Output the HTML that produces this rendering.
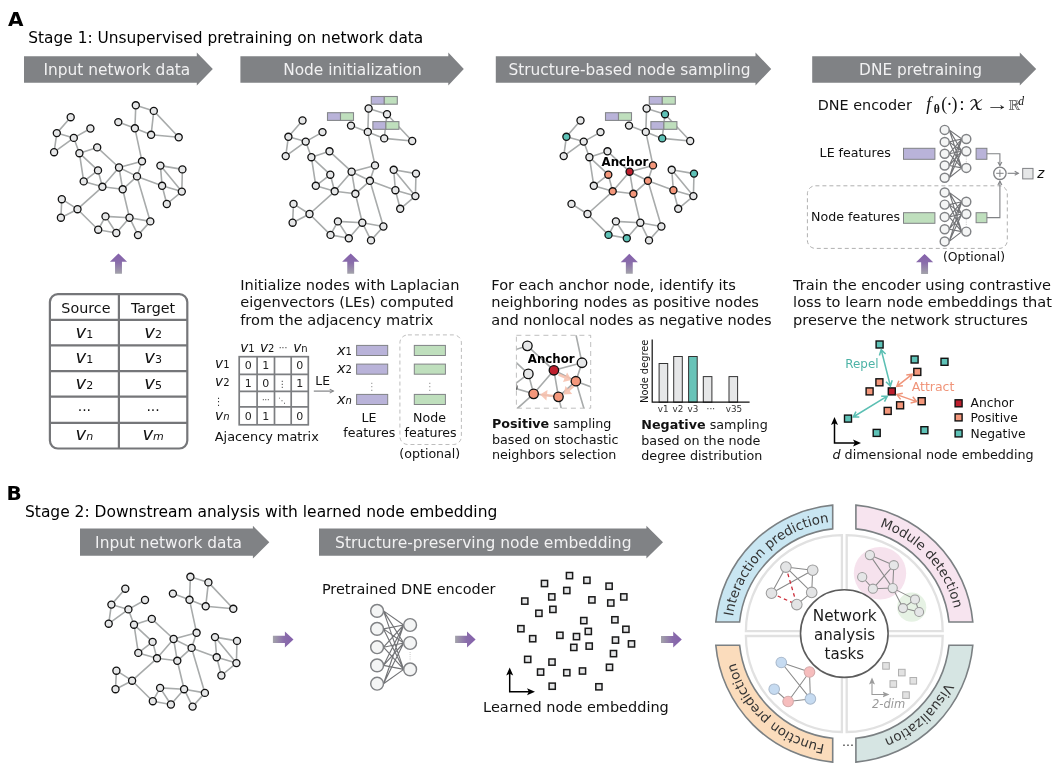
<!DOCTYPE html>
<html lang="en"><head><meta charset="utf-8"><title>DNE framework</title>
<style>
html,body{margin:0;padding:0;background:#fff;}
body{width:1060px;height:772px;overflow:hidden;}
svg{display:block;font-family:"DejaVu Sans","Liberation Sans",sans-serif;}
</style></head><body>
<svg width="1060" height="772" viewBox="0 0 1060 772">
<defs>
<linearGradient id="gup" x1="0" y1="0" x2="0" y2="1"><stop offset="0" stop-color="#8460ab"/><stop offset="0.45" stop-color="#8a6dab"/><stop offset="1" stop-color="#a3a3aa"/></linearGradient>
<linearGradient id="grt" x1="0" y1="0" x2="1" y2="0"><stop offset="0" stop-color="#a3a3aa"/><stop offset="0.55" stop-color="#8a6dab"/><stop offset="1" stop-color="#8460ab"/></linearGradient>
<marker id="mg" markerWidth="6" markerHeight="6" refX="4.5" refY="3" orient="auto" markerUnits="userSpaceOnUse"><path d="M0.5 0.8L5 3L0.5 5.2" fill="none" stroke="#808285" stroke-width="1"/></marker>
<marker id="mgf" markerWidth="7" markerHeight="6" refX="5.5" refY="3" orient="auto" markerUnits="userSpaceOnUse"><path d="M1.8 1.0L5.5 3L1.8 5.0" fill="none" stroke="#808285" stroke-width="1.05"/></marker>
<marker id="mk" markerWidth="9" markerHeight="8" refX="3" refY="4" orient="auto-start-reverse" markerUnits="userSpaceOnUse"><path d="M0 0.5L8 4L0 7.5L1.8 4Z" fill="#000"/></marker>
<marker id="mlg" markerWidth="8" markerHeight="7" refX="3" refY="3.5" orient="auto-start-reverse" markerUnits="userSpaceOnUse"><path d="M0 0.5L7 3.5L0 6.5L1.5 3.5Z" fill="#9b9b9b"/></marker>
<clipPath id="cpin"><rect x="516.4" y="335.3" width="74.3" height="72.9"/></clipPath>
</defs>
<rect width="1060" height="772" fill="#fff"/>

<text x="7.90" y="25.50" font-size="20" fill="#000" font-weight="bold" >A</text>
<text x="28.30" y="43.10" font-size="15.4" fill="#000" >Stage 1: Unsupervised pretraining on network data</text>
<path d="M24 56.2H196.8V52.5L212.8 69.0L196.8 85.5V82.7H24Z" fill="#808285"/>
<text x="116.90" y="75.00" font-size="15.4" fill="#f1f1f2" text-anchor="middle" >Input network data</text>
<path d="M240.4 56.2H448.3V52.5L463.8 69.0L448.3 85.5V82.7H240.4Z" fill="#808285"/>
<text x="352.50" y="75.00" font-size="15.4" fill="#f1f1f2" text-anchor="middle" >Node initialization</text>
<path d="M495.8 56.2H755.5V52.5L771.2 69.0L755.5 85.5V82.7H495.8Z" fill="#808285"/>
<text x="629.50" y="75.00" font-size="15.4" fill="#f1f1f2" text-anchor="middle" >Structure-based node sampling</text>
<path d="M812.2 56.2H1019.8V52.5L1036.2 69.0L1019.8 85.5V82.7H812.2Z" fill="#808285"/>
<text x="920.50" y="75.00" font-size="15.4" fill="#f1f1f2" text-anchor="middle" >DNE pretraining</text>
<g>
<path d="M70.7 117.2L56.8 133.1M56.8 133.1L73.8 137.9M56.8 133.1L54.1 152.2M73.8 137.9L54.1 152.2M73.8 137.9L90.4 128.5M73.8 137.9L79.4 153.2M79.4 153.2L97.2 147.4M79.4 153.2L98.0 170.4M79.4 153.2L83.7 181.4M98.0 170.4L83.7 181.4M98.0 170.4L102.4 186.8M83.7 181.4L102.4 186.8M97.2 147.4L119.0 167.5M119.0 167.5L142.0 161.3M119.0 167.5L137.0 176.4M119.0 167.5L122.7 189.3M119.0 167.5L102.4 186.8M102.4 186.8L122.7 189.3M122.7 189.3L137.0 176.4M137.0 176.4L142.0 161.3M142.0 161.3L134.9 128.3M134.9 128.3L118.3 122.1M134.9 128.3L135.8 105.3M135.8 105.3L153.8 110.9M153.8 110.9L151.1 134.8M134.9 128.3L151.1 134.8M151.1 134.8L178.7 137.3M153.8 110.9L178.7 137.3M137.0 176.4L162.1 185.8M137.0 176.4L150.3 221.4M122.7 189.3L129.5 217.7M160.4 165.6L182.4 169.4M160.4 165.6L162.1 185.8M160.4 165.6L181.8 191.6M182.4 169.4L181.8 191.6M162.1 185.8L181.8 191.6M162.1 185.8L166.8 204.0M181.8 191.6L166.8 204.0M61.8 199.2L77.5 209.2M61.8 199.2L60.9 217.7M77.5 209.2L60.9 217.7M77.5 209.2L102.4 186.8M77.5 209.2L98.2 229.7M98.2 229.7L105.5 216.4M98.2 229.7L116.3 233.0M105.5 216.4L116.3 233.0M105.5 216.4L129.5 217.7M116.3 233.0L129.5 217.7M129.5 217.7L150.3 221.4M129.5 217.7L138.0 235.1M138.0 235.1L150.3 221.4" stroke="#a8abab" stroke-width="1.6" fill="none"/>
<circle cx="70.7" cy="117.2" r="3.55" fill="#e6e7e8" stroke="#111" stroke-width="1.3"/>
<circle cx="56.8" cy="133.1" r="3.55" fill="#e6e7e8" stroke="#111" stroke-width="1.3"/>
<circle cx="73.8" cy="137.9" r="3.55" fill="#e6e7e8" stroke="#111" stroke-width="1.3"/>
<circle cx="90.4" cy="128.5" r="3.55" fill="#e6e7e8" stroke="#111" stroke-width="1.3"/>
<circle cx="54.1" cy="152.2" r="3.55" fill="#e6e7e8" stroke="#111" stroke-width="1.3"/>
<circle cx="79.4" cy="153.2" r="3.55" fill="#e6e7e8" stroke="#111" stroke-width="1.3"/>
<circle cx="97.2" cy="147.4" r="3.55" fill="#e6e7e8" stroke="#111" stroke-width="1.3"/>
<circle cx="98.0" cy="170.4" r="3.55" fill="#e6e7e8" stroke="#111" stroke-width="1.3"/>
<circle cx="83.7" cy="181.4" r="3.55" fill="#e6e7e8" stroke="#111" stroke-width="1.3"/>
<circle cx="102.4" cy="186.8" r="3.55" fill="#e6e7e8" stroke="#111" stroke-width="1.3"/>
<circle cx="119.0" cy="167.5" r="3.55" fill="#e6e7e8" stroke="#111" stroke-width="1.3"/>
<circle cx="122.7" cy="189.3" r="3.55" fill="#e6e7e8" stroke="#111" stroke-width="1.3"/>
<circle cx="137.0" cy="176.4" r="3.55" fill="#e6e7e8" stroke="#111" stroke-width="1.3"/>
<circle cx="142.0" cy="161.3" r="3.55" fill="#e6e7e8" stroke="#111" stroke-width="1.3"/>
<circle cx="118.3" cy="122.1" r="3.55" fill="#e6e7e8" stroke="#111" stroke-width="1.3"/>
<circle cx="134.9" cy="128.3" r="3.55" fill="#e6e7e8" stroke="#111" stroke-width="1.3"/>
<circle cx="135.8" cy="105.3" r="3.55" fill="#e6e7e8" stroke="#111" stroke-width="1.3"/>
<circle cx="153.8" cy="110.9" r="3.55" fill="#e6e7e8" stroke="#111" stroke-width="1.3"/>
<circle cx="151.1" cy="134.8" r="3.55" fill="#e6e7e8" stroke="#111" stroke-width="1.3"/>
<circle cx="178.7" cy="137.3" r="3.55" fill="#e6e7e8" stroke="#111" stroke-width="1.3"/>
<circle cx="160.4" cy="165.6" r="3.55" fill="#e6e7e8" stroke="#111" stroke-width="1.3"/>
<circle cx="182.4" cy="169.4" r="3.55" fill="#e6e7e8" stroke="#111" stroke-width="1.3"/>
<circle cx="162.1" cy="185.8" r="3.55" fill="#e6e7e8" stroke="#111" stroke-width="1.3"/>
<circle cx="181.8" cy="191.6" r="3.55" fill="#e6e7e8" stroke="#111" stroke-width="1.3"/>
<circle cx="166.8" cy="204.0" r="3.55" fill="#e6e7e8" stroke="#111" stroke-width="1.3"/>
<circle cx="61.8" cy="199.2" r="3.55" fill="#e6e7e8" stroke="#111" stroke-width="1.3"/>
<circle cx="77.5" cy="209.2" r="3.55" fill="#e6e7e8" stroke="#111" stroke-width="1.3"/>
<circle cx="60.9" cy="217.7" r="3.55" fill="#e6e7e8" stroke="#111" stroke-width="1.3"/>
<circle cx="98.2" cy="229.7" r="3.55" fill="#e6e7e8" stroke="#111" stroke-width="1.3"/>
<circle cx="105.5" cy="216.4" r="3.55" fill="#e6e7e8" stroke="#111" stroke-width="1.3"/>
<circle cx="116.3" cy="233.0" r="3.55" fill="#e6e7e8" stroke="#111" stroke-width="1.3"/>
<circle cx="129.5" cy="217.7" r="3.55" fill="#e6e7e8" stroke="#111" stroke-width="1.3"/>
<circle cx="138.0" cy="235.1" r="3.55" fill="#e6e7e8" stroke="#111" stroke-width="1.3"/>
<circle cx="150.3" cy="221.4" r="3.55" fill="#e6e7e8" stroke="#111" stroke-width="1.3"/>
</g>
<g>
<path d="M302.5 120.5L288.4 136.8M288.4 136.8L305.7 141.6M288.4 136.8L285.7 156.1M305.7 141.6L285.7 156.1M305.7 141.6L322.5 132.1M305.7 141.6L311.4 157.2M311.4 157.2L329.5 151.3M311.4 157.2L330.3 174.7M311.4 157.2L315.8 185.8M330.3 174.7L315.8 185.8M330.3 174.7L334.7 191.3M315.8 185.8L334.7 191.3M329.5 151.3L351.6 171.7M351.6 171.7L375.0 165.4M351.6 171.7L369.9 180.8M351.6 171.7L355.4 193.8M351.6 171.7L334.7 191.3M334.7 191.3L355.4 193.8M355.4 193.8L369.9 180.8M369.9 180.8L375.0 165.4M375.0 165.4L367.8 131.9M367.8 131.9L351.0 125.6M367.8 131.9L368.6 108.5M368.6 108.5L387.0 114.2M387.0 114.2L384.2 138.4M367.8 131.9L384.2 138.4M384.2 138.4L412.2 141.0M387.0 114.2L412.2 141.0M369.9 180.8L395.4 190.2M369.9 180.8L383.4 226.5M355.4 193.8L362.3 222.7M393.7 169.8L416.0 173.6M393.7 169.8L395.4 190.2M393.7 169.8L415.4 196.1M416.0 173.6L415.4 196.1M395.4 190.2L415.4 196.1M395.4 190.2L400.2 208.8M415.4 196.1L400.2 208.8M293.5 203.9L309.5 214.0M293.5 203.9L292.6 222.7M309.5 214.0L292.6 222.7M309.5 214.0L334.7 191.3M309.5 214.0L330.5 234.9M330.5 234.9L337.9 221.4M330.5 234.9L348.8 238.3M337.9 221.4L348.8 238.3M337.9 221.4L362.3 222.7M348.8 238.3L362.3 222.7M362.3 222.7L383.4 226.5M362.3 222.7L371.0 240.4M371.0 240.4L383.4 226.5" stroke="#a8abab" stroke-width="1.6" fill="none"/>
<circle cx="302.5" cy="120.5" r="3.55" fill="#e6e7e8" stroke="#111" stroke-width="1.3"/>
<circle cx="288.4" cy="136.8" r="3.55" fill="#e6e7e8" stroke="#111" stroke-width="1.3"/>
<circle cx="305.7" cy="141.6" r="3.55" fill="#e6e7e8" stroke="#111" stroke-width="1.3"/>
<circle cx="322.5" cy="132.1" r="3.55" fill="#e6e7e8" stroke="#111" stroke-width="1.3"/>
<circle cx="285.7" cy="156.1" r="3.55" fill="#e6e7e8" stroke="#111" stroke-width="1.3"/>
<circle cx="311.4" cy="157.2" r="3.55" fill="#e6e7e8" stroke="#111" stroke-width="1.3"/>
<circle cx="329.5" cy="151.3" r="3.55" fill="#e6e7e8" stroke="#111" stroke-width="1.3"/>
<circle cx="330.3" cy="174.7" r="3.55" fill="#e6e7e8" stroke="#111" stroke-width="1.3"/>
<circle cx="315.8" cy="185.8" r="3.55" fill="#e6e7e8" stroke="#111" stroke-width="1.3"/>
<circle cx="334.7" cy="191.3" r="3.55" fill="#e6e7e8" stroke="#111" stroke-width="1.3"/>
<circle cx="351.6" cy="171.7" r="3.55" fill="#e6e7e8" stroke="#111" stroke-width="1.3"/>
<circle cx="355.4" cy="193.8" r="3.55" fill="#e6e7e8" stroke="#111" stroke-width="1.3"/>
<circle cx="369.9" cy="180.8" r="3.55" fill="#e6e7e8" stroke="#111" stroke-width="1.3"/>
<circle cx="375.0" cy="165.4" r="3.55" fill="#e6e7e8" stroke="#111" stroke-width="1.3"/>
<circle cx="351.0" cy="125.6" r="3.55" fill="#e6e7e8" stroke="#111" stroke-width="1.3"/>
<circle cx="367.8" cy="131.9" r="3.55" fill="#e6e7e8" stroke="#111" stroke-width="1.3"/>
<circle cx="368.6" cy="108.5" r="3.55" fill="#e6e7e8" stroke="#111" stroke-width="1.3"/>
<circle cx="387.0" cy="114.2" r="3.55" fill="#e6e7e8" stroke="#111" stroke-width="1.3"/>
<circle cx="384.2" cy="138.4" r="3.55" fill="#e6e7e8" stroke="#111" stroke-width="1.3"/>
<circle cx="412.2" cy="141.0" r="3.55" fill="#e6e7e8" stroke="#111" stroke-width="1.3"/>
<circle cx="393.7" cy="169.8" r="3.55" fill="#e6e7e8" stroke="#111" stroke-width="1.3"/>
<circle cx="416.0" cy="173.6" r="3.55" fill="#e6e7e8" stroke="#111" stroke-width="1.3"/>
<circle cx="395.4" cy="190.2" r="3.55" fill="#e6e7e8" stroke="#111" stroke-width="1.3"/>
<circle cx="415.4" cy="196.1" r="3.55" fill="#e6e7e8" stroke="#111" stroke-width="1.3"/>
<circle cx="400.2" cy="208.8" r="3.55" fill="#e6e7e8" stroke="#111" stroke-width="1.3"/>
<circle cx="293.5" cy="203.9" r="3.55" fill="#e6e7e8" stroke="#111" stroke-width="1.3"/>
<circle cx="309.5" cy="214.0" r="3.55" fill="#e6e7e8" stroke="#111" stroke-width="1.3"/>
<circle cx="292.6" cy="222.7" r="3.55" fill="#e6e7e8" stroke="#111" stroke-width="1.3"/>
<circle cx="330.5" cy="234.9" r="3.55" fill="#e6e7e8" stroke="#111" stroke-width="1.3"/>
<circle cx="337.9" cy="221.4" r="3.55" fill="#e6e7e8" stroke="#111" stroke-width="1.3"/>
<circle cx="348.8" cy="238.3" r="3.55" fill="#e6e7e8" stroke="#111" stroke-width="1.3"/>
<circle cx="362.3" cy="222.7" r="3.55" fill="#e6e7e8" stroke="#111" stroke-width="1.3"/>
<circle cx="371.0" cy="240.4" r="3.55" fill="#e6e7e8" stroke="#111" stroke-width="1.3"/>
<circle cx="383.4" cy="226.5" r="3.55" fill="#e6e7e8" stroke="#111" stroke-width="1.3"/>
</g>
<rect x="327.5" y="112.7" width="13.0" height="7.7" fill="#b9b3d9" stroke="#85878a" stroke-width="1.1"/>
<rect x="340.5" y="112.7" width="13.0" height="7.7" fill="#bfdfbd" stroke="#85878a" stroke-width="1.1"/>
<rect x="371.3" y="96.5" width="13.0" height="7.7" fill="#b9b3d9" stroke="#85878a" stroke-width="1.1"/>
<rect x="384.3" y="96.5" width="13.0" height="7.7" fill="#bfdfbd" stroke="#85878a" stroke-width="1.1"/>
<rect x="372.9" y="121.6" width="13.0" height="7.7" fill="#b9b3d9" stroke="#85878a" stroke-width="1.1"/>
<rect x="385.9" y="121.6" width="13.0" height="7.7" fill="#bfdfbd" stroke="#85878a" stroke-width="1.1"/>
<g>
<path d="M580.5 120.5L566.4 136.8M566.4 136.8L583.7 141.6M566.4 136.8L563.7 156.1M583.7 141.6L563.7 156.1M583.7 141.6L600.5 132.1M583.7 141.6L589.4 157.2M589.4 157.2L607.5 151.3M589.4 157.2L608.3 174.7M589.4 157.2L593.8 185.8M608.3 174.7L593.8 185.8M608.3 174.7L612.7 191.3M593.8 185.8L612.7 191.3M607.5 151.3L629.6 171.7M629.6 171.7L653.0 165.4M629.6 171.7L647.9 180.8M629.6 171.7L633.4 193.8M629.6 171.7L612.7 191.3M612.7 191.3L633.4 193.8M633.4 193.8L647.9 180.8M647.9 180.8L653.0 165.4M653.0 165.4L645.8 131.9M645.8 131.9L629.0 125.6M645.8 131.9L646.6 108.5M646.6 108.5L665.0 114.2M665.0 114.2L662.2 138.4M645.8 131.9L662.2 138.4M662.2 138.4L690.2 141.0M665.0 114.2L690.2 141.0M647.9 180.8L673.4 190.2M647.9 180.8L661.4 226.5M633.4 193.8L640.3 222.7M671.7 169.8L694.0 173.6M671.7 169.8L673.4 190.2M671.7 169.8L693.4 196.1M694.0 173.6L693.4 196.1M673.4 190.2L693.4 196.1M673.4 190.2L678.2 208.8M693.4 196.1L678.2 208.8M571.5 203.9L587.5 214.0M587.5 214.0L612.7 191.3M587.5 214.0L608.5 234.9M608.5 234.9L615.9 221.4M608.5 234.9L626.8 238.3M615.9 221.4L626.8 238.3M615.9 221.4L640.3 222.7M626.8 238.3L640.3 222.7M640.3 222.7L661.4 226.5M640.3 222.7L649.0 240.4M649.0 240.4L661.4 226.5" stroke="#a8abab" stroke-width="1.6" fill="none"/>
<circle cx="580.5" cy="120.5" r="3.55" fill="#e6e7e8" stroke="#111" stroke-width="1.3"/>
<circle cx="566.4" cy="136.8" r="3.55" fill="#5ec2b7" stroke="#111" stroke-width="1.3"/>
<circle cx="583.7" cy="141.6" r="3.55" fill="#e6e7e8" stroke="#111" stroke-width="1.3"/>
<circle cx="600.5" cy="132.1" r="3.55" fill="#e6e7e8" stroke="#111" stroke-width="1.3"/>
<circle cx="563.7" cy="156.1" r="3.55" fill="#e6e7e8" stroke="#111" stroke-width="1.3"/>
<circle cx="589.4" cy="157.2" r="3.55" fill="#e6e7e8" stroke="#111" stroke-width="1.3"/>
<circle cx="607.5" cy="151.3" r="3.55" fill="#e6e7e8" stroke="#111" stroke-width="1.3"/>
<circle cx="608.3" cy="174.7" r="3.55" fill="#f4977b" stroke="#111" stroke-width="1.3"/>
<circle cx="593.8" cy="185.8" r="3.55" fill="#e6e7e8" stroke="#111" stroke-width="1.3"/>
<circle cx="612.7" cy="191.3" r="3.55" fill="#f4977b" stroke="#111" stroke-width="1.3"/>
<circle cx="629.6" cy="171.7" r="3.55" fill="#be1e2d" stroke="#111" stroke-width="1.3"/>
<circle cx="633.4" cy="193.8" r="3.55" fill="#f4977b" stroke="#111" stroke-width="1.3"/>
<circle cx="647.9" cy="180.8" r="3.55" fill="#f4977b" stroke="#111" stroke-width="1.3"/>
<circle cx="653.0" cy="165.4" r="3.55" fill="#f4977b" stroke="#111" stroke-width="1.3"/>
<circle cx="629.0" cy="125.6" r="3.55" fill="#e6e7e8" stroke="#111" stroke-width="1.3"/>
<circle cx="645.8" cy="131.9" r="3.55" fill="#e6e7e8" stroke="#111" stroke-width="1.3"/>
<circle cx="646.6" cy="108.5" r="3.55" fill="#e6e7e8" stroke="#111" stroke-width="1.3"/>
<circle cx="665.0" cy="114.2" r="3.55" fill="#5ec2b7" stroke="#111" stroke-width="1.3"/>
<circle cx="662.2" cy="138.4" r="3.55" fill="#5ec2b7" stroke="#111" stroke-width="1.3"/>
<circle cx="690.2" cy="141.0" r="3.55" fill="#e6e7e8" stroke="#111" stroke-width="1.3"/>
<circle cx="671.7" cy="169.8" r="3.55" fill="#e6e7e8" stroke="#111" stroke-width="1.3"/>
<circle cx="694.0" cy="173.6" r="3.55" fill="#5ec2b7" stroke="#111" stroke-width="1.3"/>
<circle cx="673.4" cy="190.2" r="3.55" fill="#f4977b" stroke="#111" stroke-width="1.3"/>
<circle cx="693.4" cy="196.1" r="3.55" fill="#e6e7e8" stroke="#111" stroke-width="1.3"/>
<circle cx="678.2" cy="208.8" r="3.55" fill="#e6e7e8" stroke="#111" stroke-width="1.3"/>
<circle cx="571.5" cy="203.9" r="3.55" fill="#e6e7e8" stroke="#111" stroke-width="1.3"/>
<circle cx="587.5" cy="214.0" r="3.55" fill="#e6e7e8" stroke="#111" stroke-width="1.3"/>
<circle cx="608.5" cy="234.9" r="3.55" fill="#5ec2b7" stroke="#111" stroke-width="1.3"/>
<circle cx="615.9" cy="221.4" r="3.55" fill="#e6e7e8" stroke="#111" stroke-width="1.3"/>
<circle cx="626.8" cy="238.3" r="3.55" fill="#5ec2b7" stroke="#111" stroke-width="1.3"/>
<circle cx="640.3" cy="222.7" r="3.55" fill="#e6e7e8" stroke="#111" stroke-width="1.3"/>
<circle cx="649.0" cy="240.4" r="3.55" fill="#e6e7e8" stroke="#111" stroke-width="1.3"/>
<circle cx="661.4" cy="226.5" r="3.55" fill="#e6e7e8" stroke="#111" stroke-width="1.3"/>
</g>
<rect x="605.5" y="112.7" width="13.0" height="7.7" fill="#b9b3d9" stroke="#85878a" stroke-width="1.1"/>
<rect x="618.5" y="112.7" width="13.0" height="7.7" fill="#bfdfbd" stroke="#85878a" stroke-width="1.1"/>
<rect x="649.3" y="96.5" width="13.0" height="7.7" fill="#b9b3d9" stroke="#85878a" stroke-width="1.1"/>
<rect x="662.3" y="96.5" width="13.0" height="7.7" fill="#bfdfbd" stroke="#85878a" stroke-width="1.1"/>
<rect x="650.9" y="121.6" width="13.0" height="7.7" fill="#b9b3d9" stroke="#85878a" stroke-width="1.1"/>
<rect x="663.9" y="121.6" width="13.0" height="7.7" fill="#bfdfbd" stroke="#85878a" stroke-width="1.1"/>
<text x="601.60" y="165.50" font-size="11.8" fill="#000" font-weight="bold" >Anchor</text>
<g>
<path d="M125.3 588.7L111.4 604.6M111.4 604.6L128.4 609.4M111.4 604.6L108.7 623.7M128.4 609.4L108.7 623.7M128.4 609.4L145.0 600.0M128.4 609.4L134.0 624.7M134.0 624.7L151.8 618.9M134.0 624.7L152.6 641.9M134.0 624.7L138.3 652.9M152.6 641.9L138.3 652.9M152.6 641.9L157.0 658.3M138.3 652.9L157.0 658.3M151.8 618.9L173.6 639.0M173.6 639.0L196.6 632.8M173.6 639.0L191.6 647.9M173.6 639.0L177.3 660.8M173.6 639.0L157.0 658.3M157.0 658.3L177.3 660.8M177.3 660.8L191.6 647.9M191.6 647.9L196.6 632.8M196.6 632.8L189.5 599.8M189.5 599.8L172.9 593.6M189.5 599.8L190.4 576.8M190.4 576.8L208.4 582.4M208.4 582.4L205.7 606.3M189.5 599.8L205.7 606.3M205.7 606.3L233.3 608.8M208.4 582.4L233.3 608.8M191.6 647.9L216.7 657.3M191.6 647.9L204.9 692.9M177.3 660.8L184.1 689.2M215.0 637.1L237.0 640.9M215.0 637.1L216.7 657.3M215.0 637.1L236.4 663.1M237.0 640.9L236.4 663.1M216.7 657.3L236.4 663.1M216.7 657.3L221.4 675.5M236.4 663.1L221.4 675.5M116.4 670.7L132.1 680.7M116.4 670.7L115.5 689.2M132.1 680.7L115.5 689.2M132.1 680.7L157.0 658.3M132.1 680.7L152.8 701.2M152.8 701.2L160.1 687.9M152.8 701.2L170.9 704.5M160.1 687.9L170.9 704.5M160.1 687.9L184.1 689.2M170.9 704.5L184.1 689.2M184.1 689.2L204.9 692.9M184.1 689.2L192.6 706.6M192.6 706.6L204.9 692.9" stroke="#a8abab" stroke-width="1.6" fill="none"/>
<circle cx="125.3" cy="588.7" r="3.55" fill="#e6e7e8" stroke="#111" stroke-width="1.3"/>
<circle cx="111.4" cy="604.6" r="3.55" fill="#e6e7e8" stroke="#111" stroke-width="1.3"/>
<circle cx="128.4" cy="609.4" r="3.55" fill="#e6e7e8" stroke="#111" stroke-width="1.3"/>
<circle cx="145.0" cy="600.0" r="3.55" fill="#e6e7e8" stroke="#111" stroke-width="1.3"/>
<circle cx="108.7" cy="623.7" r="3.55" fill="#e6e7e8" stroke="#111" stroke-width="1.3"/>
<circle cx="134.0" cy="624.7" r="3.55" fill="#e6e7e8" stroke="#111" stroke-width="1.3"/>
<circle cx="151.8" cy="618.9" r="3.55" fill="#e6e7e8" stroke="#111" stroke-width="1.3"/>
<circle cx="152.6" cy="641.9" r="3.55" fill="#e6e7e8" stroke="#111" stroke-width="1.3"/>
<circle cx="138.3" cy="652.9" r="3.55" fill="#e6e7e8" stroke="#111" stroke-width="1.3"/>
<circle cx="157.0" cy="658.3" r="3.55" fill="#e6e7e8" stroke="#111" stroke-width="1.3"/>
<circle cx="173.6" cy="639.0" r="3.55" fill="#e6e7e8" stroke="#111" stroke-width="1.3"/>
<circle cx="177.3" cy="660.8" r="3.55" fill="#e6e7e8" stroke="#111" stroke-width="1.3"/>
<circle cx="191.6" cy="647.9" r="3.55" fill="#e6e7e8" stroke="#111" stroke-width="1.3"/>
<circle cx="196.6" cy="632.8" r="3.55" fill="#e6e7e8" stroke="#111" stroke-width="1.3"/>
<circle cx="172.9" cy="593.6" r="3.55" fill="#e6e7e8" stroke="#111" stroke-width="1.3"/>
<circle cx="189.5" cy="599.8" r="3.55" fill="#e6e7e8" stroke="#111" stroke-width="1.3"/>
<circle cx="190.4" cy="576.8" r="3.55" fill="#e6e7e8" stroke="#111" stroke-width="1.3"/>
<circle cx="208.4" cy="582.4" r="3.55" fill="#e6e7e8" stroke="#111" stroke-width="1.3"/>
<circle cx="205.7" cy="606.3" r="3.55" fill="#e6e7e8" stroke="#111" stroke-width="1.3"/>
<circle cx="233.3" cy="608.8" r="3.55" fill="#e6e7e8" stroke="#111" stroke-width="1.3"/>
<circle cx="215.0" cy="637.1" r="3.55" fill="#e6e7e8" stroke="#111" stroke-width="1.3"/>
<circle cx="237.0" cy="640.9" r="3.55" fill="#e6e7e8" stroke="#111" stroke-width="1.3"/>
<circle cx="216.7" cy="657.3" r="3.55" fill="#e6e7e8" stroke="#111" stroke-width="1.3"/>
<circle cx="236.4" cy="663.1" r="3.55" fill="#e6e7e8" stroke="#111" stroke-width="1.3"/>
<circle cx="221.4" cy="675.5" r="3.55" fill="#e6e7e8" stroke="#111" stroke-width="1.3"/>
<circle cx="116.4" cy="670.7" r="3.55" fill="#e6e7e8" stroke="#111" stroke-width="1.3"/>
<circle cx="132.1" cy="680.7" r="3.55" fill="#e6e7e8" stroke="#111" stroke-width="1.3"/>
<circle cx="115.5" cy="689.2" r="3.55" fill="#e6e7e8" stroke="#111" stroke-width="1.3"/>
<circle cx="152.8" cy="701.2" r="3.55" fill="#e6e7e8" stroke="#111" stroke-width="1.3"/>
<circle cx="160.1" cy="687.9" r="3.55" fill="#e6e7e8" stroke="#111" stroke-width="1.3"/>
<circle cx="170.9" cy="704.5" r="3.55" fill="#e6e7e8" stroke="#111" stroke-width="1.3"/>
<circle cx="184.1" cy="689.2" r="3.55" fill="#e6e7e8" stroke="#111" stroke-width="1.3"/>
<circle cx="192.6" cy="706.6" r="3.55" fill="#e6e7e8" stroke="#111" stroke-width="1.3"/>
<circle cx="204.9" cy="692.9" r="3.55" fill="#e6e7e8" stroke="#111" stroke-width="1.3"/>
</g>
<path d="M118.5 253.4L127.1 261.8H121.95V273.8H115.05V261.8H109.9Z" fill="url(#gup)"/>
<path d="M350.7 253.4L359.3 261.8H354.15V273.8H347.25V261.8H342.09999999999997Z" fill="url(#gup)"/>
<path d="M629.3 253.8L637.9 262.2H632.75V273.8H625.8499999999999V262.2H620.6999999999999Z" fill="url(#gup)"/>
<path d="M924.6 253.9L933.2 262.3H928.0500000000001V274.0H921.15V262.3H916.0Z" fill="url(#gup)"/>
<g stroke="#757679" stroke-width="2.2" fill="none">
<rect x="49.9" y="294.1" width="137.4" height="154.4" rx="8" ry="8" fill="#fff"/>
<path d="M118.9 294.1V448.5M49.9 319.8H187.3M49.9 345.4H187.3M49.9 371.1H187.3M49.9 396.7H187.3M49.9 422.9H187.3"/>
</g>
<text x="85.90" y="312.50" font-size="14.3" fill="#111" text-anchor="middle" >Source</text>
<text x="153.10" y="312.50" font-size="14.3" fill="#111" text-anchor="middle" >Target</text>
<text x="84.40" y="337.50" text-anchor="middle" fill="#111"><tspan font-size="18" font-style="italic">v</tspan><tspan font-size="11">1</tspan></text>
<text x="153.10" y="337.50" text-anchor="middle" fill="#111"><tspan font-size="18" font-style="italic">v</tspan><tspan font-size="11">2</tspan></text>
<text x="84.40" y="363.20" text-anchor="middle" fill="#111"><tspan font-size="18" font-style="italic">v</tspan><tspan font-size="11">1</tspan></text>
<text x="153.10" y="363.20" text-anchor="middle" fill="#111"><tspan font-size="18" font-style="italic">v</tspan><tspan font-size="11">3</tspan></text>
<text x="84.40" y="388.80" text-anchor="middle" fill="#111"><tspan font-size="18" font-style="italic">v</tspan><tspan font-size="11">2</tspan></text>
<text x="153.10" y="388.80" text-anchor="middle" fill="#111"><tspan font-size="18" font-style="italic">v</tspan><tspan font-size="11">5</tspan></text>
<text x="84.40" y="411.40" font-size="14" fill="#111" text-anchor="middle" >...</text>
<text x="153.10" y="411.40" font-size="14" fill="#111" text-anchor="middle" >...</text>
<text x="84.40" y="440.40" text-anchor="middle" fill="#111"><tspan font-size="18" font-style="italic">v</tspan><tspan font-size="11" font-style="italic">n</tspan></text>
<text x="153.10" y="440.40" text-anchor="middle" fill="#111"><tspan font-size="18" font-style="italic">v</tspan><tspan font-size="11" font-style="italic">m</tspan></text>
<text x="240.20" y="290.00" font-size="14.58" fill="#111" >Initialize nodes with Laplacian</text>
<text x="240.20" y="307.30" font-size="14.58" fill="#111" >eigenvectors (LEs) computed</text>
<text x="240.20" y="324.80" font-size="14.58" fill="#111" >from the adjacency matrix</text>
<g stroke="#7c7e81" stroke-width="1.7" fill="none"><rect x="239.2" y="356.7" width="69.1" height="68.1"/>
<path d="M257.1 356.7V424.8M274.5 356.7V424.8M291.2 356.7V424.8M239.2 374.3H308.3M239.2 391.4H308.3M239.2 406.9H308.3"/></g>
<text x="248.20" y="369.30" font-size="11" fill="#222" text-anchor="middle" >0</text>
<text x="265.80" y="369.30" font-size="11" fill="#222" text-anchor="middle" >1</text>
<text x="299.80" y="369.30" font-size="11" fill="#222" text-anchor="middle" >0</text>
<text x="248.20" y="386.60" font-size="11" fill="#222" text-anchor="middle" >1</text>
<text x="265.80" y="386.60" font-size="11" fill="#222" text-anchor="middle" >0</text>
<text x="299.80" y="386.60" font-size="11" fill="#222" text-anchor="middle" >1</text>
<text x="248.20" y="419.80" font-size="11" fill="#222" text-anchor="middle" >0</text>
<text x="265.80" y="419.80" font-size="11" fill="#222" text-anchor="middle" >1</text>
<text x="299.80" y="419.80" font-size="11" fill="#222" text-anchor="middle" >0</text>
<text x="282.20" y="386.80" font-size="9" fill="#444" text-anchor="middle" >⋮</text>
<text x="265.80" y="402.60" font-size="8" fill="#444" text-anchor="middle" >···</text>
<text x="282.00" y="402.60" font-size="7.5" fill="#222" text-anchor="middle" >⋱</text>
<text x="247.50" y="352.20" text-anchor="middle" fill="#111"><tspan font-size="13.6" font-style="italic">v</tspan><tspan font-size="10">1</tspan></text>
<text x="267.20" y="352.20" text-anchor="middle" fill="#111"><tspan font-size="13.6" font-style="italic">v</tspan><tspan font-size="10">2</tspan></text>
<text x="300.50" y="352.20" text-anchor="middle" fill="#111"><tspan font-size="13.6" font-style="italic">v</tspan><tspan font-size="10">n</tspan></text>
<text x="283.00" y="351.00" font-size="9" fill="#333" text-anchor="middle" >···</text>
<text x="215.10" y="368.00" text-anchor="start" fill="#111"><tspan font-size="13.6" font-style="italic">v</tspan><tspan font-size="10">1</tspan></text>
<text x="215.10" y="386.00" text-anchor="start" fill="#111"><tspan font-size="13.6" font-style="italic">v</tspan><tspan font-size="10">2</tspan></text>
<text x="215.10" y="420.10" text-anchor="start" fill="#111"><tspan font-size="13.6" font-style="italic">v</tspan><tspan font-size="10" font-style="italic">n</tspan></text>
<text x="218.70" y="405.00" font-size="10" fill="#333" text-anchor="middle" >⋮</text>
<text x="214.80" y="441.10" font-size="12.85" fill="#111" >Ajacency matrix</text>
<text x="315.30" y="384.70" font-size="12.3" fill="#111" >LE</text>
<path d="M313.8 391.1H333.4" stroke="#808285" stroke-width="1.2" fill="none" marker-end="url(#mgf)"/>
<rect x="356.6" y="345.4" width="31.1" height="10.1" fill="#b9b3d9" stroke="#808285" stroke-width="1"/>
<rect x="414.3" y="345.4" width="31.1" height="10.1" fill="#bfdfbd" stroke="#808285" stroke-width="1"/>
<rect x="356.6" y="364.1" width="31.1" height="10.1" fill="#b9b3d9" stroke="#808285" stroke-width="1"/>
<rect x="414.3" y="364.1" width="31.1" height="10.1" fill="#bfdfbd" stroke="#808285" stroke-width="1"/>
<rect x="356.6" y="394.4" width="31.1" height="10.1" fill="#b9b3d9" stroke="#808285" stroke-width="1"/>
<rect x="414.3" y="394.4" width="31.1" height="10.1" fill="#bfdfbd" stroke="#808285" stroke-width="1"/>
<text x="337.00" y="354.50" text-anchor="start" fill="#111"><tspan font-size="14.5" font-style="italic">x</tspan><tspan font-size="10">1</tspan></text>
<text x="337.00" y="373.20" text-anchor="start" fill="#111"><tspan font-size="14.5" font-style="italic">x</tspan><tspan font-size="10">2</tspan></text>
<text x="337.00" y="403.60" text-anchor="start" fill="#111"><tspan font-size="14.5" font-style="italic">x</tspan><tspan font-size="10" font-style="italic">n</tspan></text>
<text x="372.00" y="389.50" font-size="10" fill="#999" text-anchor="middle" >⋮</text>
<text x="430.00" y="389.50" font-size="10" fill="#999" text-anchor="middle" >⋮</text>
<text x="369.00" y="421.80" font-size="12.6" fill="#111" text-anchor="middle" >LE</text>
<text x="369.30" y="436.60" font-size="12.6" fill="#111" text-anchor="middle" >features</text>
<text x="429.50" y="421.80" font-size="12.6" fill="#111" text-anchor="middle" >Node</text>
<text x="430.60" y="436.60" font-size="12.6" fill="#111" text-anchor="middle" >features</text>
<text x="429.80" y="457.90" font-size="12.6" fill="#111" text-anchor="middle" >(optional)</text>
<rect x="399.9" y="334.9" width="61.5" height="109.6" rx="8" fill="none" stroke="#b5b5b5" stroke-width="0.9" stroke-dasharray="4 3"/>
<text x="491.30" y="290.00" font-size="14.58" fill="#111" >For each anchor node, identify its</text>
<text x="491.30" y="307.30" font-size="14.58" fill="#111" >neighboring nodes as positive nodes</text>
<text x="491.30" y="324.60" font-size="14.58" fill="#111" >and nonlocal nodes as negative nodes</text>
<g clip-path="url(#cpin)">
<g transform="translate(553.9 370.3) scale(1.2) translate(-629.59 -171.71)">
<g>
<path d="M580.5 120.5L566.4 136.8M566.4 136.8L583.7 141.6M566.4 136.8L563.7 156.1M583.7 141.6L563.7 156.1M583.7 141.6L600.5 132.1M583.7 141.6L589.4 157.2M589.4 157.2L607.5 151.3M589.4 157.2L608.3 174.7M589.4 157.2L593.8 185.8M608.3 174.7L593.8 185.8M608.3 174.7L612.7 191.3M593.8 185.8L612.7 191.3M607.5 151.3L629.6 171.7M629.6 171.7L653.0 165.4M629.6 171.7L647.9 180.8M629.6 171.7L633.4 193.8M629.6 171.7L612.7 191.3M612.7 191.3L633.4 193.8M633.4 193.8L647.9 180.8M647.9 180.8L653.0 165.4M653.0 165.4L645.8 131.9M645.8 131.9L629.0 125.6M645.8 131.9L646.6 108.5M646.6 108.5L665.0 114.2M665.0 114.2L662.2 138.4M645.8 131.9L662.2 138.4M662.2 138.4L690.2 141.0M665.0 114.2L690.2 141.0M647.9 180.8L673.4 190.2M647.9 180.8L661.4 226.5M633.4 193.8L640.3 222.7M671.7 169.8L694.0 173.6M671.7 169.8L673.4 190.2M671.7 169.8L693.4 196.1M694.0 173.6L693.4 196.1M673.4 190.2L693.4 196.1M673.4 190.2L678.2 208.8M693.4 196.1L678.2 208.8M571.5 203.9L587.5 214.0M587.5 214.0L612.7 191.3M587.5 214.0L608.5 234.9M608.5 234.9L615.9 221.4M608.5 234.9L626.8 238.3M615.9 221.4L626.8 238.3M615.9 221.4L640.3 222.7M626.8 238.3L640.3 222.7M640.3 222.7L661.4 226.5M640.3 222.7L649.0 240.4M649.0 240.4L661.4 226.5" stroke="#a8abab" stroke-width="1.35" fill="none"/>
<circle cx="580.5" cy="120.5" r="3.95" fill="#e6e7e8" stroke="#111" stroke-width="1.1"/>
<circle cx="566.4" cy="136.8" r="3.95" fill="#e6e7e8" stroke="#111" stroke-width="1.1"/>
<circle cx="583.7" cy="141.6" r="3.95" fill="#e6e7e8" stroke="#111" stroke-width="1.1"/>
<circle cx="600.5" cy="132.1" r="3.95" fill="#e6e7e8" stroke="#111" stroke-width="1.1"/>
<circle cx="563.7" cy="156.1" r="3.95" fill="#e6e7e8" stroke="#111" stroke-width="1.1"/>
<circle cx="589.4" cy="157.2" r="3.95" fill="#e6e7e8" stroke="#111" stroke-width="1.1"/>
<circle cx="607.5" cy="151.3" r="3.95" fill="#e6e7e8" stroke="#111" stroke-width="1.1"/>
<circle cx="608.3" cy="174.7" r="3.95" fill="#e6e7e8" stroke="#111" stroke-width="1.1"/>
<circle cx="593.8" cy="185.8" r="3.95" fill="#e6e7e8" stroke="#111" stroke-width="1.1"/>
<circle cx="612.7" cy="191.3" r="3.95" fill="#f4977b" stroke="#111" stroke-width="1.1"/>
<circle cx="629.6" cy="171.7" r="3.95" fill="#be1e2d" stroke="#111" stroke-width="1.1"/>
<circle cx="633.4" cy="193.8" r="3.95" fill="#f4977b" stroke="#111" stroke-width="1.1"/>
<circle cx="647.9" cy="180.8" r="3.95" fill="#f4977b" stroke="#111" stroke-width="1.1"/>
<circle cx="653.0" cy="165.4" r="3.95" fill="#e6e7e8" stroke="#111" stroke-width="1.1"/>
<circle cx="629.0" cy="125.6" r="3.95" fill="#e6e7e8" stroke="#111" stroke-width="1.1"/>
<circle cx="645.8" cy="131.9" r="3.95" fill="#e6e7e8" stroke="#111" stroke-width="1.1"/>
<circle cx="646.6" cy="108.5" r="3.95" fill="#e6e7e8" stroke="#111" stroke-width="1.1"/>
<circle cx="665.0" cy="114.2" r="3.95" fill="#e6e7e8" stroke="#111" stroke-width="1.1"/>
<circle cx="662.2" cy="138.4" r="3.95" fill="#e6e7e8" stroke="#111" stroke-width="1.1"/>
<circle cx="690.2" cy="141.0" r="3.95" fill="#e6e7e8" stroke="#111" stroke-width="1.1"/>
<circle cx="671.7" cy="169.8" r="3.95" fill="#e6e7e8" stroke="#111" stroke-width="1.1"/>
<circle cx="694.0" cy="173.6" r="3.95" fill="#e6e7e8" stroke="#111" stroke-width="1.1"/>
<circle cx="673.4" cy="190.2" r="3.95" fill="#e6e7e8" stroke="#111" stroke-width="1.1"/>
<circle cx="693.4" cy="196.1" r="3.95" fill="#e6e7e8" stroke="#111" stroke-width="1.1"/>
<circle cx="678.2" cy="208.8" r="3.95" fill="#e6e7e8" stroke="#111" stroke-width="1.1"/>
<circle cx="571.5" cy="203.9" r="3.95" fill="#e6e7e8" stroke="#111" stroke-width="1.1"/>
<circle cx="587.5" cy="214.0" r="3.95" fill="#e6e7e8" stroke="#111" stroke-width="1.1"/>
<circle cx="608.5" cy="234.9" r="3.95" fill="#e6e7e8" stroke="#111" stroke-width="1.1"/>
<circle cx="615.9" cy="221.4" r="3.95" fill="#e6e7e8" stroke="#111" stroke-width="1.1"/>
<circle cx="626.8" cy="238.3" r="3.95" fill="#e6e7e8" stroke="#111" stroke-width="1.1"/>
<circle cx="640.3" cy="222.7" r="3.95" fill="#e6e7e8" stroke="#111" stroke-width="1.1"/>
<circle cx="649.0" cy="240.4" r="3.95" fill="#e6e7e8" stroke="#111" stroke-width="1.1"/>
<circle cx="661.4" cy="226.5" r="3.95" fill="#e6e7e8" stroke="#111" stroke-width="1.1"/>
</g>
</g>
<circle cx="512.2" cy="387" r="4.75" fill="#e6e7e8" stroke="#111" stroke-width="1.3"/>
</g>
<rect x="516.4" y="335.3" width="74.3" height="72.9" fill="none" stroke="#b9b9b9" stroke-width="0.9" stroke-dasharray="5 4"/>
<path d="M558.0 375.7L564.5 378.5L563.0 382.1L571.5 380.0L567.1 372.5L565.6 376.1L559.0 373.3Z" fill="#f6c1ae" fill-opacity="0.9"/>
<path d="M572.7 385.0L568.0 389.0L565.5 386.0L563.5 394.5L572.2 393.9L569.7 391.0L574.3 387.0Z" fill="#f6c1ae" fill-opacity="0.9"/>
<path d="M553.1 394.7L547.1 394.0L547.5 390.1L540.0 394.5L546.4 400.5L546.8 396.6L552.9 397.3Z" fill="#f6c1ae" fill-opacity="0.9"/>
<text x="527.80" y="362.60" font-size="11.8" fill="#000" font-weight="bold" >Anchor</text>
<text x="491.9" y="428.2" font-size="12.73" fill="#111"><tspan font-weight="bold">Positive</tspan> sampling</text>
<text x="491.90" y="443.50" font-size="12.73" fill="#111" >based on stochastic</text>
<text x="491.90" y="459.20" font-size="12.73" fill="#111" >neighbors selection</text>
<rect x="659.1" y="363.5" width="8.6" height="38.7" fill="#e6e7e8" stroke="#333" stroke-width="1"/>
<rect x="673.7" y="356.5" width="8.6" height="45.7" fill="#e6e7e8" stroke="#333" stroke-width="1"/>
<rect x="688.6" y="356.5" width="8.6" height="45.7" fill="#68c3b8" stroke="#333" stroke-width="1"/>
<rect x="703.3" y="376.6" width="8.6" height="25.6" fill="#e6e7e8" stroke="#333" stroke-width="1"/>
<rect x="729.0" y="376.6" width="8.6" height="25.6" fill="#e6e7e8" stroke="#333" stroke-width="1"/>
<path d="M652.2 339.6V402.2H749.6" stroke="#111" stroke-width="1.2" fill="none"/>
<text x="663.20" y="411.80" font-size="8.8" fill="#333" text-anchor="middle" >v1</text>
<text x="677.90" y="411.80" font-size="8.8" fill="#333" text-anchor="middle" >v2</text>
<text x="692.90" y="411.80" font-size="8.8" fill="#333" text-anchor="middle" >v3</text>
<text x="710.80" y="411.80" font-size="8.8" fill="#333" text-anchor="middle" >···</text>
<text x="733.90" y="411.80" font-size="8.8" fill="#333" text-anchor="middle" >v35</text>
<text transform="translate(647.6 402.9) rotate(-90)" font-size="9.84" fill="#111">Node degree</text>
<text x="641.3" y="429.2" font-size="12.73" fill="#111"><tspan font-weight="bold">Negative</tspan> sampling</text>
<text x="641.30" y="444.60" font-size="12.73" fill="#111" >based on the node</text>
<text x="641.30" y="460.20" font-size="12.73" fill="#111" >degree distribution</text>
<text x="817.70" y="109.50" font-size="14.4" fill="#111" >DNE encoder</text>
<g font-family="'Liberation Serif','DejaVu Serif',serif" fill="#111">
<text x="926.3" y="110.2" font-size="17.8" font-style="italic">f</text>
<text x="933.8" y="112.9" font-size="11.6" font-weight="bold">θ</text>
<text x="941.2" y="110.2" font-size="17.8">(</text><text x="946.6" y="110.2" font-size="17.8">·</text><text x="951.4" y="110.2" font-size="17.8">)</text><text x="959.6" y="110.2" font-size="17.8">:</text>
<text x="968.8" y="110.2" font-size="15.4" font-family="'DejaVu Math TeX Gyre','DejaVu Serif',serif" stroke="#111" stroke-width="0.1">𝒳</text>
<text transform="translate(985.8 110.2) scale(1.3 1)" font-size="17.8">→</text>
<text x="1008.2" y="110.2" font-size="14.2" font-family="'DejaVu Serif','DejaVu Sans',serif" fill="#666">ℝ</text>
<text x="1018.2" y="105.3" font-size="11.6" font-style="italic">d</text>
</g>
<text x="819.60" y="157.40" font-size="12.63" fill="#111" >LE features</text>
<rect x="903.5" y="148.3" width="31.4" height="11" fill="#b9b3d9" stroke="#808285" stroke-width="1"/>
<path d="M949.2 129.9L961.8 139M949.2 129.9L961.8 151.2M949.2 129.9L961.8 167.9M949.2 141.9L961.8 139M949.2 141.9L961.8 151.2M949.2 141.9L961.8 167.9M949.2 153.7L961.8 139M949.2 153.7L961.8 151.2M949.2 153.7L961.8 167.9M949.2 165.5L961.8 139M949.2 165.5L961.8 151.2M949.2 165.5L961.8 167.9M949.2 177.7L961.8 139M949.2 177.7L961.8 151.2M949.2 177.7L961.8 167.9" stroke="#737477" stroke-width="1.15" fill="none"/>
<circle cx="944.7" cy="129.9" r="4.5" fill="#f4f5f5" stroke="#808285" stroke-width="1.45"/>
<circle cx="944.7" cy="141.9" r="4.5" fill="#f4f5f5" stroke="#808285" stroke-width="1.45"/>
<circle cx="944.7" cy="153.7" r="4.5" fill="#f4f5f5" stroke="#808285" stroke-width="1.45"/>
<circle cx="944.7" cy="165.5" r="4.5" fill="#f4f5f5" stroke="#808285" stroke-width="1.45"/>
<circle cx="944.7" cy="177.7" r="4.5" fill="#f4f5f5" stroke="#808285" stroke-width="1.45"/>
<circle cx="966.3" cy="139" r="4.5" fill="#f4f5f5" stroke="#808285" stroke-width="1.45"/>
<circle cx="966.3" cy="151.2" r="4.5" fill="#f4f5f5" stroke="#808285" stroke-width="1.45"/>
<circle cx="966.3" cy="167.9" r="4.5" fill="#f4f5f5" stroke="#808285" stroke-width="1.45"/>
<path d="M966.3 156.5V163" stroke="#aaa" stroke-width="0.8" stroke-dasharray="0.8 1.4"/>
<rect x="976.1" y="148.3" width="10.8" height="11" fill="#b9b3d9" stroke="#808285" stroke-width="1"/>
<path d="M986.9 153.7H999.9V165.6" stroke="#808285" stroke-width="1.1" fill="none" marker-end="url(#mgf)"/>
<circle cx="999.9" cy="173.3" r="6.2" fill="#fff" stroke="#808285" stroke-width="1.3"/><path d="M996.2 173.3H1003.6M999.9 169.6V177" stroke="#808285" stroke-width="1"/>
<path d="M1007.6 173.3H1018.4" stroke="#808285" stroke-width="1.1" fill="none" marker-end="url(#mgf)"/>
<rect x="1022.7" y="168.4" width="10.3" height="10.5" fill="#e6e7e8" stroke="#808285" stroke-width="1"/>
<text x="1037.20" y="177.70" font-size="13.5" fill="#111" font-style="italic" >z</text>
<rect x="807.4" y="185.8" width="199.9" height="62.6" rx="8" fill="none" stroke="#b0b0b0" stroke-width="1" stroke-dasharray="4 3"/>
<text x="811.00" y="221.30" font-size="12.63" fill="#111" >Node features</text>
<rect x="903.5" y="212.7" width="31.4" height="10.6" fill="#bfdfbd" stroke="#808285" stroke-width="1"/>
<path d="M949.2 192.4L961.8 201.7M949.2 192.4L961.8 214M949.2 192.4L961.8 231.6M949.2 204.6L961.8 201.7M949.2 204.6L961.8 214M949.2 204.6L961.8 231.6M949.2 216.9L961.8 201.7M949.2 216.9L961.8 214M949.2 216.9L961.8 231.6M949.2 229.2L961.8 201.7M949.2 229.2L961.8 214M949.2 229.2L961.8 231.6M949.2 241.4L961.8 201.7M949.2 241.4L961.8 214M949.2 241.4L961.8 231.6" stroke="#737477" stroke-width="1.15" fill="none"/>
<circle cx="944.7" cy="192.4" r="4.5" fill="#f4f5f5" stroke="#808285" stroke-width="1.45"/>
<circle cx="944.7" cy="204.6" r="4.5" fill="#f4f5f5" stroke="#808285" stroke-width="1.45"/>
<circle cx="944.7" cy="216.9" r="4.5" fill="#f4f5f5" stroke="#808285" stroke-width="1.45"/>
<circle cx="944.7" cy="229.2" r="4.5" fill="#f4f5f5" stroke="#808285" stroke-width="1.45"/>
<circle cx="944.7" cy="241.4" r="4.5" fill="#f4f5f5" stroke="#808285" stroke-width="1.45"/>
<circle cx="966.3" cy="201.7" r="4.5" fill="#f4f5f5" stroke="#808285" stroke-width="1.45"/>
<circle cx="966.3" cy="214" r="4.5" fill="#f4f5f5" stroke="#808285" stroke-width="1.45"/>
<circle cx="966.3" cy="231.6" r="4.5" fill="#f4f5f5" stroke="#808285" stroke-width="1.45"/>
<path d="M966.3 219.5V226" stroke="#aaa" stroke-width="0.8" stroke-dasharray="0.8 1.4"/>
<rect x="976.1" y="212.7" width="10.8" height="10" fill="#bfdfbd" stroke="#808285" stroke-width="1"/>
<path d="M986.9 217.6H999.9V181.2" stroke="#808285" stroke-width="1.1" fill="none" marker-end="url(#mgf)"/>
<text x="943.00" y="260.60" font-size="12.4" fill="#111" >(Optional)</text>
<text x="793.10" y="289.70" font-size="14.58" fill="#111" >Train the encoder using contrastive</text>
<text x="793.10" y="307.20" font-size="14.58" fill="#111" >loss to learn node embeddings that</text>
<text x="793.10" y="324.50" font-size="14.58" fill="#111" >preserve the network structures</text>
<rect x="876.1" y="341.0" width="7.0" height="7.0" fill="#5ec2b7" stroke="#111" stroke-width="1.4"/>
<rect x="911.1" y="356.0" width="7.0" height="7.0" fill="#5ec2b7" stroke="#111" stroke-width="1.4"/>
<rect x="941.0" y="358.3" width="7.0" height="7.0" fill="#5ec2b7" stroke="#111" stroke-width="1.4"/>
<rect x="844.5" y="415.1" width="7.0" height="7.0" fill="#5ec2b7" stroke="#111" stroke-width="1.4"/>
<rect x="873.2" y="429.4" width="7.0" height="7.0" fill="#5ec2b7" stroke="#111" stroke-width="1.4"/>
<rect x="920.9" y="426.7" width="7.0" height="7.0" fill="#5ec2b7" stroke="#111" stroke-width="1.4"/>
<rect x="913.8" y="368.4" width="7.0" height="7.0" fill="#f4977b" stroke="#111" stroke-width="1.4"/>
<rect x="875.9" y="378.8" width="7.0" height="7.0" fill="#f4977b" stroke="#111" stroke-width="1.4"/>
<rect x="866.1" y="387.9" width="7.0" height="7.0" fill="#f4977b" stroke="#111" stroke-width="1.4"/>
<rect x="918.2" y="397.7" width="7.0" height="7.0" fill="#f4977b" stroke="#111" stroke-width="1.4"/>
<rect x="896.6" y="401.8" width="7.0" height="7.0" fill="#f4977b" stroke="#111" stroke-width="1.4"/>
<rect x="884.2" y="407.4" width="7.0" height="7.0" fill="#f4977b" stroke="#111" stroke-width="1.4"/>
<rect x="888.3" y="387.9" width="7.0" height="7.0" fill="#be1e2d" stroke="#111" stroke-width="1.4"/>
<path d="M881.2 349.7L890.4 386.0M879.4 355.5L881.2 349.7L885.6 354.0M886.0 381.7L890.4 386.0L892.2 380.2" stroke="#5bbfb3" stroke-width="1.5" fill="none" stroke-linejoin="miter"/>
<path d="M887.3 396.2L853.2 417.0M881.2 396.2L887.3 396.2L884.5 401.6M856.0 411.6L853.2 417.0L859.3 417.0" stroke="#5bbfb3" stroke-width="1.5" fill="none" stroke-linejoin="miter"/>
<path d="M896.8 386.4L912.4 374.2M902.9 385.7L896.8 386.4L898.9 380.7M910.3 379.9L912.4 374.2L906.3 374.9" stroke="#f0957a" stroke-width="1.5" fill="none" stroke-linejoin="miter"/>
<path d="M896.8 394.6L916.6 401.6M900.6 399.4L896.8 394.6L902.8 393.3M910.6 402.9L916.6 401.6L912.8 396.8" stroke="#f0957a" stroke-width="1.5" fill="none" stroke-linejoin="miter"/>
<text x="845.30" y="368.40" font-size="11.9" fill="#4db3a6" >Repel</text>
<text x="911.70" y="391.20" font-size="12.5" fill="#f0957a" >Attract</text>
<rect x="955.1" y="399.8" width="7.0" height="7.0" fill="#be1e2d" stroke="#111" stroke-width="1.4"/>
<text x="970.50" y="407.30" font-size="12.3" fill="#111" >Anchor</text>
<rect x="955.1" y="413.9" width="7.0" height="7.0" fill="#f4977b" stroke="#111" stroke-width="1.4"/>
<text x="970.50" y="421.80" font-size="12.3" fill="#111" >Positive</text>
<rect x="955.1" y="429.9" width="7.0" height="7.0" fill="#5ec2b7" stroke="#111" stroke-width="1.4"/>
<text x="970.50" y="437.80" font-size="12.3" fill="#111" >Negative</text>
<path d="M834.5 422.0V443.1H856" stroke="#000" stroke-width="1.5" fill="none" marker-start="url(#mk)" marker-end="url(#mk)"/>
<text x="832.5" y="459.3" font-size="12.73" fill="#111"><tspan font-style="italic">d</tspan> dimensional node embedding</text>
<text x="6.40" y="500.40" font-size="20" fill="#000" font-weight="bold" >B</text>
<text x="25.00" y="517.00" font-size="15.47" fill="#000" >Stage 2: Downstream analysis with learned node embedding</text>
<path d="M80 528.4H252.9V525.8L269.3 542.2L252.9 558.6V555.7H80Z" fill="#808285"/>
<text x="168.50" y="548.00" font-size="15.4" fill="#f1f1f2" text-anchor="middle" >Input network data</text>
<path d="M319.0 528.4H646.4V525.8L663 542.2L646.4 558.6V555.7H319.0Z" fill="#808285"/>
<text x="483.30" y="548.00" font-size="15.5" fill="#f1f1f2" text-anchor="middle" >Structure-preserving node embedding</text>
<path d="M293.5 639.4L284.9 631.4V635.8H272.9V643.0H284.9V647.4Z" fill="url(#grt)"/>
<path d="M475.6 639.4L467.0 631.4V635.8H455.1V643.0H467.0V647.4Z" fill="url(#grt)"/>
<path d="M681.8 639.5L673.1999999999999 631.5V635.9H661.0V643.1H673.1999999999999V647.5Z" fill="url(#grt)"/>
<text x="321.90" y="593.60" font-size="14.44" fill="#111" >Pretrained DNE encoder</text>
<path d="M383.5 610.9L403.7 625M383.5 610.9L403.7 643M383.5 610.9L403.7 669.4M383.5 628.9L403.7 625M383.5 628.9L403.7 643M383.5 628.9L403.7 669.4M383.5 647.2L403.7 625M383.5 647.2L403.7 643M383.5 647.2L403.7 669.4M383.5 665.4L403.7 625M383.5 665.4L403.7 643M383.5 665.4L403.7 669.4M383.5 683.7L403.7 625M383.5 683.7L403.7 643M383.5 683.7L403.7 669.4" stroke="#737477" stroke-width="1.15" fill="none"/>
<circle cx="377.1" cy="610.9" r="6.4" fill="#f4f5f5" stroke="#808285" stroke-width="1.45"/>
<circle cx="377.1" cy="628.9" r="6.4" fill="#f4f5f5" stroke="#808285" stroke-width="1.45"/>
<circle cx="377.1" cy="647.2" r="6.4" fill="#f4f5f5" stroke="#808285" stroke-width="1.45"/>
<circle cx="377.1" cy="665.4" r="6.4" fill="#f4f5f5" stroke="#808285" stroke-width="1.45"/>
<circle cx="377.1" cy="683.7" r="6.4" fill="#f4f5f5" stroke="#808285" stroke-width="1.45"/>
<circle cx="410.1" cy="625" r="6.4" fill="#f4f5f5" stroke="#808285" stroke-width="1.45"/>
<circle cx="410.1" cy="643" r="6.4" fill="#f4f5f5" stroke="#808285" stroke-width="1.45"/>
<circle cx="410.1" cy="669.4" r="6.4" fill="#f4f5f5" stroke="#808285" stroke-width="1.45"/>
<path d="M410.1 652V661" stroke="#aaa" stroke-width="0.8" stroke-dasharray="0.8 1.4"/>
<rect x="566.4" y="572.5" width="6.2" height="6.2" fill="#e6e7e8" stroke="#1a1a1a" stroke-width="1.5"/>
<rect x="541.4" y="580.4" width="6.2" height="6.2" fill="#e6e7e8" stroke="#1a1a1a" stroke-width="1.5"/>
<rect x="583.8" y="577.2" width="6.2" height="6.2" fill="#e6e7e8" stroke="#1a1a1a" stroke-width="1.5"/>
<rect x="606.0" y="583.1" width="6.2" height="6.2" fill="#e6e7e8" stroke="#1a1a1a" stroke-width="1.5"/>
<rect x="563.7" y="587.4" width="6.2" height="6.2" fill="#e6e7e8" stroke="#1a1a1a" stroke-width="1.5"/>
<rect x="548.7" y="593.8" width="6.2" height="6.2" fill="#e6e7e8" stroke="#1a1a1a" stroke-width="1.5"/>
<rect x="620.7" y="593.8" width="6.2" height="6.2" fill="#e6e7e8" stroke="#1a1a1a" stroke-width="1.5"/>
<rect x="521.7" y="598.0" width="6.2" height="6.2" fill="#e6e7e8" stroke="#1a1a1a" stroke-width="1.5"/>
<rect x="588.8" y="596.8" width="6.2" height="6.2" fill="#e6e7e8" stroke="#1a1a1a" stroke-width="1.5"/>
<rect x="607.7" y="599.9" width="6.2" height="6.2" fill="#e6e7e8" stroke="#1a1a1a" stroke-width="1.5"/>
<rect x="549.8" y="606.3" width="6.2" height="6.2" fill="#e6e7e8" stroke="#1a1a1a" stroke-width="1.5"/>
<rect x="535.8" y="610.2" width="6.2" height="6.2" fill="#e6e7e8" stroke="#1a1a1a" stroke-width="1.5"/>
<rect x="580.7" y="617.5" width="6.2" height="6.2" fill="#e6e7e8" stroke="#1a1a1a" stroke-width="1.5"/>
<rect x="611.8" y="616.7" width="6.2" height="6.2" fill="#e6e7e8" stroke="#1a1a1a" stroke-width="1.5"/>
<rect x="517.8" y="625.6" width="6.2" height="6.2" fill="#e6e7e8" stroke="#1a1a1a" stroke-width="1.5"/>
<rect x="622.8" y="626.2" width="6.2" height="6.2" fill="#e6e7e8" stroke="#1a1a1a" stroke-width="1.5"/>
<rect x="585.2" y="628.3" width="6.2" height="6.2" fill="#e6e7e8" stroke="#1a1a1a" stroke-width="1.5"/>
<rect x="556.8" y="632.2" width="6.2" height="6.2" fill="#e6e7e8" stroke="#1a1a1a" stroke-width="1.5"/>
<rect x="573.4" y="633.5" width="6.2" height="6.2" fill="#e6e7e8" stroke="#1a1a1a" stroke-width="1.5"/>
<rect x="529.6" y="635.6" width="6.2" height="6.2" fill="#e6e7e8" stroke="#1a1a1a" stroke-width="1.5"/>
<rect x="612.4" y="637.0" width="6.2" height="6.2" fill="#e6e7e8" stroke="#1a1a1a" stroke-width="1.5"/>
<rect x="628.4" y="640.8" width="6.2" height="6.2" fill="#e6e7e8" stroke="#1a1a1a" stroke-width="1.5"/>
<rect x="570.7" y="644.3" width="6.2" height="6.2" fill="#e6e7e8" stroke="#1a1a1a" stroke-width="1.5"/>
<rect x="586.1" y="643.0" width="6.2" height="6.2" fill="#e6e7e8" stroke="#1a1a1a" stroke-width="1.5"/>
<rect x="610.4" y="650.5" width="6.2" height="6.2" fill="#e6e7e8" stroke="#1a1a1a" stroke-width="1.5"/>
<rect x="524.6" y="656.3" width="6.2" height="6.2" fill="#e6e7e8" stroke="#1a1a1a" stroke-width="1.5"/>
<rect x="548.9" y="659.0" width="6.2" height="6.2" fill="#e6e7e8" stroke="#1a1a1a" stroke-width="1.5"/>
<rect x="606.4" y="664.2" width="6.2" height="6.2" fill="#e6e7e8" stroke="#1a1a1a" stroke-width="1.5"/>
<rect x="537.5" y="669.0" width="6.2" height="6.2" fill="#e6e7e8" stroke="#1a1a1a" stroke-width="1.5"/>
<rect x="563.7" y="669.6" width="6.2" height="6.2" fill="#e6e7e8" stroke="#1a1a1a" stroke-width="1.5"/>
<rect x="579.4" y="667.9" width="6.2" height="6.2" fill="#e6e7e8" stroke="#1a1a1a" stroke-width="1.5"/>
<rect x="549.1" y="683.1" width="6.2" height="6.2" fill="#e6e7e8" stroke="#1a1a1a" stroke-width="1.5"/>
<rect x="595.8" y="683.7" width="6.2" height="6.2" fill="#e6e7e8" stroke="#1a1a1a" stroke-width="1.5"/>
<path d="M509.7 672.5V691.8H530" stroke="#000" stroke-width="1.5" fill="none" marker-start="url(#mk)" marker-end="url(#mk)"/>
<text x="483.10" y="711.90" font-size="14.48" fill="#111" >Learned node embedding</text>
<path d="M832.7 505.1A129.0 129.0 0 0 0 715.8 622.0L739.6 622.0A105.3 105.3 0 0 1 832.7 528.9Z" fill="#c9e6f2" stroke="#7b8083" stroke-width="1.6" stroke-linejoin="miter"/>
<path d="M855.9 505.1A129.0 129.0 0 0 1 972.8 622.0L949.0 622.0A105.3 105.3 0 0 0 855.9 528.9Z" fill="#f7e4ef" stroke="#7b8083" stroke-width="1.6" stroke-linejoin="miter"/>
<path d="M832.7 762.1A129.0 129.0 0 0 1 715.8 645.2L739.6 645.2A105.3 105.3 0 0 0 832.7 738.3Z" fill="#fbdcbc" stroke="#7b8083" stroke-width="1.6" stroke-linejoin="miter"/>
<path d="M855.9 762.1A129.0 129.0 0 0 0 972.8 645.2L949.0 645.2A105.3 105.3 0 0 1 855.9 738.3Z" fill="#d6e5e3" stroke="#7b8083" stroke-width="1.6" stroke-linejoin="miter"/>
<path d="M841.9 631.2L841.9 535.2A96.0 96.0 0 0 0 745.9 631.2Z" fill="#fff" stroke="#e1e1e1" stroke-width="2.3"/>
<path d="M846.7 631.2L846.7 535.2A96.0 96.0 0 0 1 942.7 631.2Z" fill="#fff" stroke="#e1e1e1" stroke-width="2.3"/>
<path d="M841.9 636.0L841.9 732.0A96.0 96.0 0 0 1 745.9 636.0Z" fill="#fff" stroke="#e1e1e1" stroke-width="2.3"/>
<path d="M846.7 636.0L846.7 732.0A96.0 96.0 0 0 0 942.7 636.0Z" fill="#fff" stroke="#e1e1e1" stroke-width="2.3"/>
<path d="M785.9 567.1L812.7 570.2M785.9 567.1L771.5 593.2M785.9 567.1L811.7 592.4M812.7 570.2L771.5 593.2M812.7 570.2L811.7 592.4M811.7 592.4L796.8 604.6" stroke="#8a8a8a" stroke-width="1.05" fill="none"/>
<path d="M785.9 567.1L796.8 604.6" stroke="#cc2936" stroke-width="1.3" stroke-dasharray="3.6 3.2" fill="none"/>
<path d="M771.5 593.2L796.8 604.6" stroke="#cc2936" stroke-width="1.3" stroke-dasharray="3.6 3.2" fill="none"/>
<circle cx="785.9" cy="567.1" r="5.3" fill="#e3e4e5" stroke="#9c9c9c" stroke-width="1.05"/>
<circle cx="812.7" cy="570.2" r="5.3" fill="#e3e4e5" stroke="#9c9c9c" stroke-width="1.05"/>
<circle cx="771.5" cy="593.2" r="5.3" fill="#e3e4e5" stroke="#9c9c9c" stroke-width="1.05"/>
<circle cx="811.7" cy="592.4" r="5.3" fill="#e3e4e5" stroke="#9c9c9c" stroke-width="1.05"/>
<circle cx="796.8" cy="604.6" r="5.3" fill="#e3e4e5" stroke="#9c9c9c" stroke-width="1.05"/>
<circle cx="880" cy="573.2" r="26.2" fill="#f6e2ed"/><circle cx="911.7" cy="607.2" r="14.6" fill="#e6f2e4"/>
<path d="M869.9 555.1L893.8 565.2M869.9 555.1L892.7 588.1M893.8 565.2L872.9 588.7M893.8 565.2L892.7 588.1M862.2 577L872.9 588.7M872.9 588.7L892.7 588.1M892.7 588.1L915 599.4M892.7 588.1L903 608.1M915 599.4L903 608.1M915 599.4L919.1 612M903 608.1L919.1 612" stroke="#8a8a8a" stroke-width="1.05" fill="none"/>
<circle cx="869.9" cy="555.1" r="4.6" fill="#e5e6e7" stroke="#9c9c9c" stroke-width="1.05"/>
<circle cx="893.8" cy="565.2" r="4.6" fill="#e5e6e7" stroke="#9c9c9c" stroke-width="1.05"/>
<circle cx="862.2" cy="577" r="4.6" fill="#e5e6e7" stroke="#9c9c9c" stroke-width="1.05"/>
<circle cx="872.9" cy="588.7" r="4.6" fill="#e5e6e7" stroke="#9c9c9c" stroke-width="1.05"/>
<circle cx="892.7" cy="588.1" r="4.6" fill="#e5e6e7" stroke="#9c9c9c" stroke-width="1.05"/>
<circle cx="915" cy="599.4" r="4.5" fill="#e5e6e7" stroke="#9c9c9c" stroke-width="1.05"/>
<circle cx="903" cy="608.1" r="4.5" fill="#e5e6e7" stroke="#9c9c9c" stroke-width="1.05"/>
<circle cx="919.1" cy="612" r="4.5" fill="#e5e6e7" stroke="#9c9c9c" stroke-width="1.05"/>
<path d="M781.3 662.5L809.5 672M781.3 662.5L810.4 698.9M809.5 672L788.1 701.5M809.5 672L810.4 698.9M774.2 689.2L788.1 701.5M788.1 701.5L810.4 698.9" stroke="#8a8a8a" stroke-width="1.05" fill="none"/>
<circle cx="781.3" cy="662.5" r="5.3" fill="#c6dbf1" stroke="#a9b9cc" stroke-width="1.05"/>
<circle cx="809.5" cy="672" r="5.3" fill="#f6bdbd" stroke="#d3a9a9" stroke-width="1.05"/>
<circle cx="774.2" cy="689.2" r="5.3" fill="#c6dbf1" stroke="#a9b9cc" stroke-width="1.05"/>
<circle cx="788.1" cy="701.5" r="5.3" fill="#f6bdbd" stroke="#d3a9a9" stroke-width="1.05"/>
<circle cx="810.4" cy="698.9" r="5.3" fill="#c6dbf1" stroke="#a9b9cc" stroke-width="1.05"/>
<rect x="882.7" y="662.6" width="6.6" height="6.6" fill="#e2e2e2" stroke="#b0b0b0" stroke-width="1.0"/>
<rect x="898.5" y="669.3" width="6.6" height="6.6" fill="#e2e2e2" stroke="#b0b0b0" stroke-width="1.0"/>
<rect x="910.0" y="677.5" width="6.6" height="6.6" fill="#e2e2e2" stroke="#b0b0b0" stroke-width="1.0"/>
<rect x="890.0" y="680.7" width="6.6" height="6.6" fill="#e2e2e2" stroke="#b0b0b0" stroke-width="1.0"/>
<rect x="902.7" y="691.8" width="6.6" height="6.6" fill="#e2e2e2" stroke="#b0b0b0" stroke-width="1.0"/>
<path d="M872 681.5V694.5H885.5" stroke="#9b9b9b" stroke-width="1.1" fill="none" marker-start="url(#mlg)" marker-end="url(#mlg)"/>
<text x="872.00" y="708.00" font-size="11.5" fill="#9a9a9a" font-style="italic" >2-dim</text>
<text x="848.00" y="750.40" font-size="12.5" fill="#333" text-anchor="middle" >···</text>
<circle cx="844.3" cy="633.6" r="43.8" fill="#fff" stroke="#5c5c5c" stroke-width="1.6"/>
<text x="844.70" y="621.40" font-size="15.3" fill="#1a1a1a" text-anchor="middle" >Network</text>
<text x="844.50" y="640.30" font-size="15.1" fill="#1a1a1a" text-anchor="middle" >analysis</text>
<text x="844.40" y="659.10" font-size="15.1" fill="#1a1a1a" text-anchor="middle" >tasks</text>
<path id="circ" d="M731.6999999999999 633.6A112.6 112.6 0 1 1 956.9 633.6A112.6 112.6 0 1 1 731.6999999999999 633.6" fill="none"/>
<text font-size="13.4" fill="#333" text-anchor="middle"><textPath href="#circ" startOffset="12.64%">Interaction prediction</textPath></text>
<text font-size="13.3" fill="#333" text-anchor="middle"><textPath href="#circ" startOffset="38.28%">Module detection</textPath></text>
<text font-size="13.5" fill="#333" text-anchor="middle"><textPath href="#circ" startOffset="63.20%">Visualization</textPath></text>
<text font-size="13.3" fill="#333" text-anchor="middle"><textPath href="#circ" startOffset="86.82%">Function prediction</textPath></text>
</svg></body></html>
